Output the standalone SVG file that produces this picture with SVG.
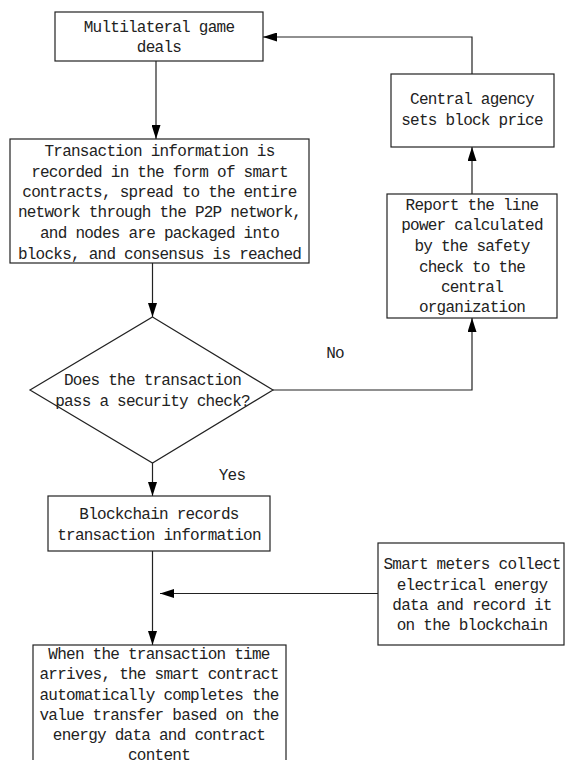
<svg xmlns="http://www.w3.org/2000/svg" width="566" height="760" viewBox="0 0 566 760">
<style>
.box{fill:#fff;stroke:#222;stroke-width:1.2}
.t{font-family:"Liberation Mono","DejaVu Sans Mono",monospace;font-size:16px;letter-spacing:-0.75px;fill:#222;text-anchor:middle}
.c{fill:none;stroke:#222;stroke-width:1.2}
</style>
<defs>
<marker id="ah" markerUnits="userSpaceOnUse" viewBox="0 0 14 9" refX="14" refY="4.5" markerWidth="14" markerHeight="9" orient="auto">
<path d="M0,0 L14,4.5 L0,9 z" fill="#000"/>
</marker>
</defs>
<rect width="566" height="760" fill="#fff"/>
<g id="connectors">
<path class="c" d="M156,61 V139" marker-end="url(#ah)"/>
<path class="c" d="M152.5,263 V317" marker-end="url(#ah)"/>
<path class="c" d="M152.5,463 V496" marker-end="url(#ah)"/>
<path class="c" d="M152.5,551 V645" marker-end="url(#ah)"/>
<path class="c" d="M378,593.5 H160" marker-end="url(#ah)"/>
<path class="c" d="M273,390 H472 V318" marker-end="url(#ah)"/>
<path class="c" d="M472,194 V147" marker-end="url(#ah)"/>
<path class="c" d="M472,74 V37 H263" marker-end="url(#ah)"/>
<text class="t" x="335" y="358">No</text>
<text class="t" x="232" y="480">Yes</text>
</g>
<g id="n1">
<rect class="box" x="55" y="12" width="208" height="49"/>
<text class="t" x="159" y="32">Multilateral game</text>
<text class="t" x="159" y="52">deals</text>
</g>
<g id="n2">
<rect class="box" x="10" y="139" width="299" height="124"/>
<text class="t" x="159.5" y="156">Transaction information is</text>
<text class="t" x="159.5" y="176.5">recorded in the form of smart</text>
<text class="t" x="159.5" y="197">contracts, spread to the entire</text>
<text class="t" x="159.5" y="217">network through the P2P network,</text>
<text class="t" x="159.5" y="237.5">and nodes are packaged into</text>
<text class="t" x="159.5" y="258.5">blocks, and consensus is reached</text>
</g>
<g id="n3">
<polygon class="box" points="152.5,317 273,390 152.5,463 30,390"/>
<text class="t" x="152.5" y="385">Does the transaction</text>
<text class="t" x="152.5" y="406">pass a security check?</text>
</g>
<g id="n4">
<rect class="box" x="48" y="496" width="222" height="55"/>
<text class="t" x="159" y="518.5">Blockchain records</text>
<text class="t" x="159" y="539.5">transaction information</text>
</g>
<g id="n5">
<rect class="box" x="33" y="645" width="253" height="140"/>
<text class="t" x="159" y="658.5">When the transaction time</text>
<text class="t" x="159" y="679">arrives, the smart contract</text>
<text class="t" x="159" y="699.5">automatically completes the</text>
<text class="t" x="159" y="719.5">value transfer based on the</text>
<text class="t" x="159" y="740">energy data and contract</text>
<text class="t" x="159" y="760">content</text>
</g>
<g id="n6">
<rect class="box" x="378" y="543" width="186" height="102"/>
<text class="t" x="472" y="569">Smart meters collect</text>
<text class="t" x="472" y="589.5">electrical energy</text>
<text class="t" x="472" y="610">data and record it</text>
<text class="t" x="472" y="630">on the blockchain</text>
</g>
<g id="n7">
<rect class="box" x="387" y="194" width="170" height="124"/>
<text class="t" x="472" y="210">Report the line</text>
<text class="t" x="472" y="230">power calculated</text>
<text class="t" x="472" y="251">by the safety</text>
<text class="t" x="472" y="272">check to the</text>
<text class="t" x="472" y="292">central</text>
<text class="t" x="472" y="312">organization</text>
</g>
<g id="n8">
<rect class="box" x="391" y="74" width="163" height="73"/>
<text class="t" x="472" y="104">Central agency</text>
<text class="t" x="472" y="125">sets block price</text>
</g>
</svg>
